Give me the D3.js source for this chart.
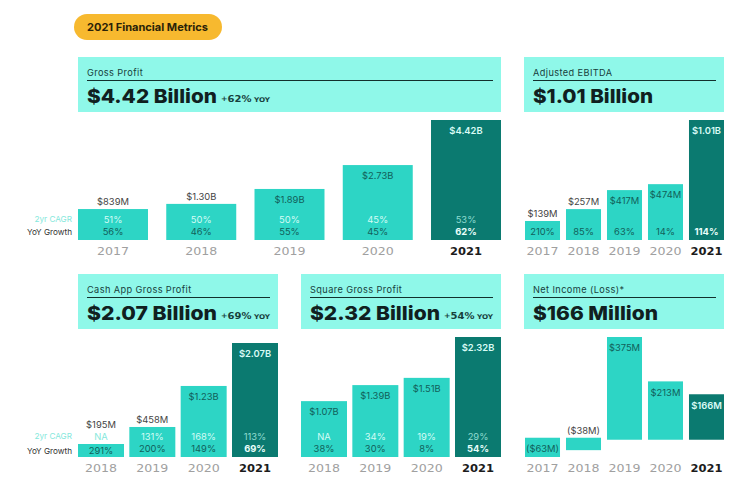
<!DOCTYPE html>
<html>
<head>
<meta charset="utf-8">
<script src="https://cdn.jsdelivr.net/npm/d3@7"></script>
<style>
  html, body { margin: 0; padding: 0; background: #fff; }
  svg { display: block; }
</style>
</head>
<body>
<div id="container"></div>
<script>
"use strict";

const width = 747;
const height = 492;

// data
const yearsLong = ["2017", "2018", "2019", "2020", "2021"];
const yearsShort = ["2018", "2019", "2020", "2021"];

const grossValues = [1.14, 1.33, 1.88, 2.76, 4.42];
const grossLabels = ["$839M", "$1.30B", "$1.89B", "$2.73B", "$4.42B"];
const grossCagr = ["51%", "50%", "50%", "45%", "53%"];
const grossYoy = ["56%", "46%", "55%", "45%", "62%"];

const ebitdaValues = [0.16, 0.26, 0.42, 0.47, 1.01];
const ebitdaLabels = ["$139M", "$257M", "$417M", "$474M", "$1.01B"];
const ebitdaYoy = ["210%", "85%", "63%", "14%", "114%"];

const cashValues = [0.236, 0.545, 1.29, 2.07];
const cashLabels = ["$195M", "$458M", "$1.23B", "$2.07B"];
const cashCagr = ["NA", "131%", "168%", "113%"];
const cashYoy = ["291%", "200%", "149%", "69%"];

const squareValues = [1.08, 1.39, 1.53, 2.32];
const squareLabels = ["$1.07B", "$1.39B", "$1.51B", "$2.32B"];
const squareCagr = ["NA", "34%", "19%", "29%"];
const squareYoy = ["38%", "30%", "8%", "54%"];

const netValues = [-63, -38, 375, 213, 166];
const netLabels = ["($63M)", "($38M)", "$375M", "$213M", "$166M"];

const headerColor = "#8ff8e9";
const barColor = "#2dd5c5";
const lastColor = "#0b7a70";
const pillColor = "#f7b92f";
const inkColor = "#10201f";
const labelFont = "Inter, sans-serif";
const wideFont = "'DejaVu Sans', sans-serif";

const panels = [
  { title: "Gross Profit", big: "$4.42 Billion", bigWidth: 130, yoyNote: "62%",
    years: yearsLong, values: grossValues, labels: grossLabels, cagr: grossCagr, yoy: grossYoy,
    left: 78, right: 501, top: 57, barLeft: 78, barTop: 120, base: 240, axisY: 240, pad: 0.207,
    cagrY: 220, yoyY: 232 },
  { title: "Adjusted EBITDA", big: "$1.01 Billion", bigWidth: 120,
    years: yearsLong, values: ebitdaValues, labels: ebitdaLabels, yoy: ebitdaYoy,
    left: 524, right: 724, top: 57, barLeft: 525, barTop: 120, base: 240, axisY: 240, pad: 0.146,
    yoyY: 232 },
  { title: "Cash App Gross Profit", big: "$2.07 Billion", bigWidth: 130, yoyNote: "69%",
    years: yearsShort, values: cashValues, labels: cashLabels, cagr: cashCagr, yoy: cashYoy,
    left: 78, right: 278, top: 274, barLeft: 78, barTop: 343, base: 457, axisY: 457, pad: 0.104,
    cagrY: 437, yoyY: 449 },
  { title: "Square Gross Profit", big: "$2.32 Billion", bigWidth: 130, yoyNote: "54%",
    years: yearsShort, values: squareValues, labels: squareLabels, cagr: squareCagr, yoy: squareYoy,
    left: 301, right: 501, top: 274, barLeft: 301, barTop: 337, base: 457, axisY: 457, pad: 0.104,
    cagrY: 437, yoyY: 449 },
  { title: "Net Income (Loss)*", big: "$166 Million", bigWidth: 125,
    years: yearsLong, values: netValues, labels: netLabels,
    left: 524, right: 724, top: 274, barLeft: 525, barTop: 337, base: 457, axisY: 457, pad: 0.146 },
];

const rowLabels = [
  { text: "2yr CAGR", y: 219, color: "#86e8dc" },
  { text: "YoY Growth", y: 232, color: "#333" },
  { text: "2yr CAGR", y: 436, color: "#86e8dc" },
  { text: "YoY Growth", y: 451, color: "#333" },
];

const svg = d3
  .select("#container")
  .append("svg")
  .attr("width", width)
  .attr("height", height);

// title pill
svg
  .append("rect")
  .attr("x", 74)
  .attr("y", 14)
  .attr("width", 148)
  .attr("height", 26)
  .attr("rx", 13)
  .attr("fill", pillColor);

svg
  .append("text")
  .attr("x", 87)
  .attr("y", 31)
  .text("2021 Financial Metrics")
  .attr("textLength", 121)
  .attr("lengthAdjust", "spacingAndGlyphs")
  .style("font-family", labelFont)
  .style("font-weight", "700")
  .style("font-size", "11px")
  .attr("fill", "#2a2208");

// row captions on the far left
svg
  .selectAll(".row-label")
  .data(rowLabels)
  .enter()
  .append("text")
  .attr("class", "row-label")
  .attr("x", 72)
  .attr("y", (d) => d.y)
  .attr("dy", "0.35em")
  .attr("text-anchor", "end")
  .attr("fill", (d) => d.color)
  .text((d) => d.text)
  .style("font-family", labelFont)
  .style("font-size", "8.2px");

const drawPanel = (p) => {
  const g = svg.append("g");
  const last = p.years.length - 1;

  // header box
  g.append("rect")
    .attr("x", p.left)
    .attr("y", p.top)
    .attr("width", p.right - p.left)
    .attr("height", 55)
    .attr("fill", headerColor);

  g.append("text")
    .attr("x", p.left + 9)
    .attr("y", p.top + 18.5)
    .text(p.title)
    .attr("fill", "#17403c")
    .style("font-family", labelFont)
    .style("font-size", "9.2px")
    .style("letter-spacing", "0.4px");

  g.append("line")
    .attr("x1", p.left + 9)
    .attr("x2", p.right - 8)
    .attr("y1", p.top + 23.5)
    .attr("y2", p.top + 23.5)
    .attr("stroke", "#12302d")
    .attr("stroke-width", 1);

  // Inter stretched sideways is the closest to the wide headline face
  g.append("text")
    .attr("x", p.left + 9)
    .attr("y", p.top + 46)
    .text(p.big)
    .attr("textLength", p.bigWidth)
    .attr("lengthAdjust", "spacingAndGlyphs")
    .attr("fill", inkColor)
    .style("font-family", labelFont)
    .style("font-weight", "800")
    .style("font-size", "19px");

  if (p.yoyNote) {
    const note = g
      .append("text")
      .attr("x", p.left + 9 + p.bigWidth + 4)
      .attr("y", p.top + 45)
      .attr("textLength", 49)
      .attr("lengthAdjust", "spacingAndGlyphs")
      .attr("fill", "#17403c")
      .style("font-family", wideFont)
      .style("font-weight", "700");
    note.append("tspan").text("+").style("font-size", "7px").attr("dy", "-1.5");
    note.append("tspan").text(p.yoyNote).style("font-size", "9px").attr("dy", "1.5");
    note.append("tspan").text(" YOY").style("font-size", "6.5px");
  }

  // scales
  const xScale = d3
    .scaleBand()
    .domain(p.years)
    .range([p.barLeft, p.right])
    .paddingInner(p.pad);

  const yScale = d3
    .scaleLinear()
    .domain([Math.min(0, d3.min(p.values)), d3.max(p.values)])
    .range([p.base, p.barTop]);

  // loss bars start a little above the zero line in the original
  const barTop = (v) => (v < 0 ? yScale(0) - 2 : yScale(v));
  const barBottom = (v) => (v < 0 ? yScale(v) : yScale(0));

  const rows = p.years.map((year, i) => ({
    year,
    i,
    value: p.values[i],
    label: p.labels[i],
    cagr: p.cagr ? p.cagr[i] : null,
    yoy: p.yoy ? p.yoy[i] : null,
    top: barTop(p.values[i]),
    h: barBottom(p.values[i]) - barTop(p.values[i]),
  }));

  g.selectAll(".bar")
    .data(rows)
    .enter()
    .append("rect")
    .attr("class", "bar")
    .attr("x", (d) => xScale(d.year))
    .attr("y", (d) => d.top)
    .attr("width", xScale.bandwidth())
    .attr("height", (d) => d.h)
    .attr("fill", (d) => (d.i === last ? lastColor : barColor));

  const center = (d) => xScale(d.year) + xScale.bandwidth() / 2;
  const labelInside = (d) => d.h >= 40 || (d.value < 0 && d.h > 15);

  // value labels go inside the tall bars, above the short ones
  const labelY = (d) => {
    if (labelInside(d)) return d.top + 11;
    if (d.cagr === "NA") return d.top - 19;
    return d.top - 7;
  };

  g.selectAll(".value")
    .data(rows)
    .enter()
    .append("text")
    .attr("class", "value")
    .attr("x", center)
    .attr("y", labelY)
    .attr("dy", "0.35em")
    .attr("text-anchor", "middle")
    .attr("fill", (d) => {
      if (d.i === last) return "#d9fbf5";
      return labelInside(d) ? "#12605a" : "#444";
    })
    .text((d) => d.label)
    .style("font-family", labelFont)
    .style("font-weight", (d) => (d.i === last ? "600" : "400"))
    .style("font-size", "9.4px");

  g.selectAll(".cagr")
    .data(rows.filter((d) => d.cagr))
    .enter()
    .append("text")
    .attr("class", "cagr")
    .attr("x", center)
    .attr("y", p.cagrY)
    .attr("dy", "0.35em")
    .attr("text-anchor", "middle")
    .attr("fill", (d) => {
      if (d.top > p.cagrY) return "#86e8dc";
      return d.i === last ? "#8fdcd1" : "#d4fcf5";
    })
    .text((d) => d.cagr)
    .style("font-family", labelFont)
    .style("font-size", "9.4px");

  g.selectAll(".yoy")
    .data(rows.filter((d) => d.yoy))
    .enter()
    .append("text")
    .attr("class", "yoy")
    .attr("x", center)
    .attr("y", (d) => (d.h < 15 ? p.yoyY + 2 : p.yoyY))
    .attr("dy", "0.35em")
    .attr("text-anchor", "middle")
    .attr("fill", (d) => (d.i === last ? "#eafffb" : "#12605a"))
    .text((d) => d.yoy)
    .style("font-family", labelFont)
    .style("font-weight", (d) => (d.i === last ? "700" : "400"))
    .style("font-size", "9.4px");

  // year axis
  const xAxis = d3.axisBottom(xScale).tickSize(0).tickPadding(7.5);

  const axis = g
    .append("g")
    .attr("transform", `translate(0, ${p.axisY})`)
    .call(xAxis);

  axis.select(".domain").remove();

  axis
    .selectAll("text")
    .attr("textLength", 32)
    .attr("lengthAdjust", "spacingAndGlyphs")
    .attr("fill", (d) => (d === "2021" ? "#1c1c1c" : "#a0a0a0"))
    .style("font-family", wideFont)
    .style("font-weight", (d) => (d === "2021" ? "700" : "400"))
    .style("font-size", "10px");
};

panels.forEach(drawPanel);
</script>
</body>
</html>
